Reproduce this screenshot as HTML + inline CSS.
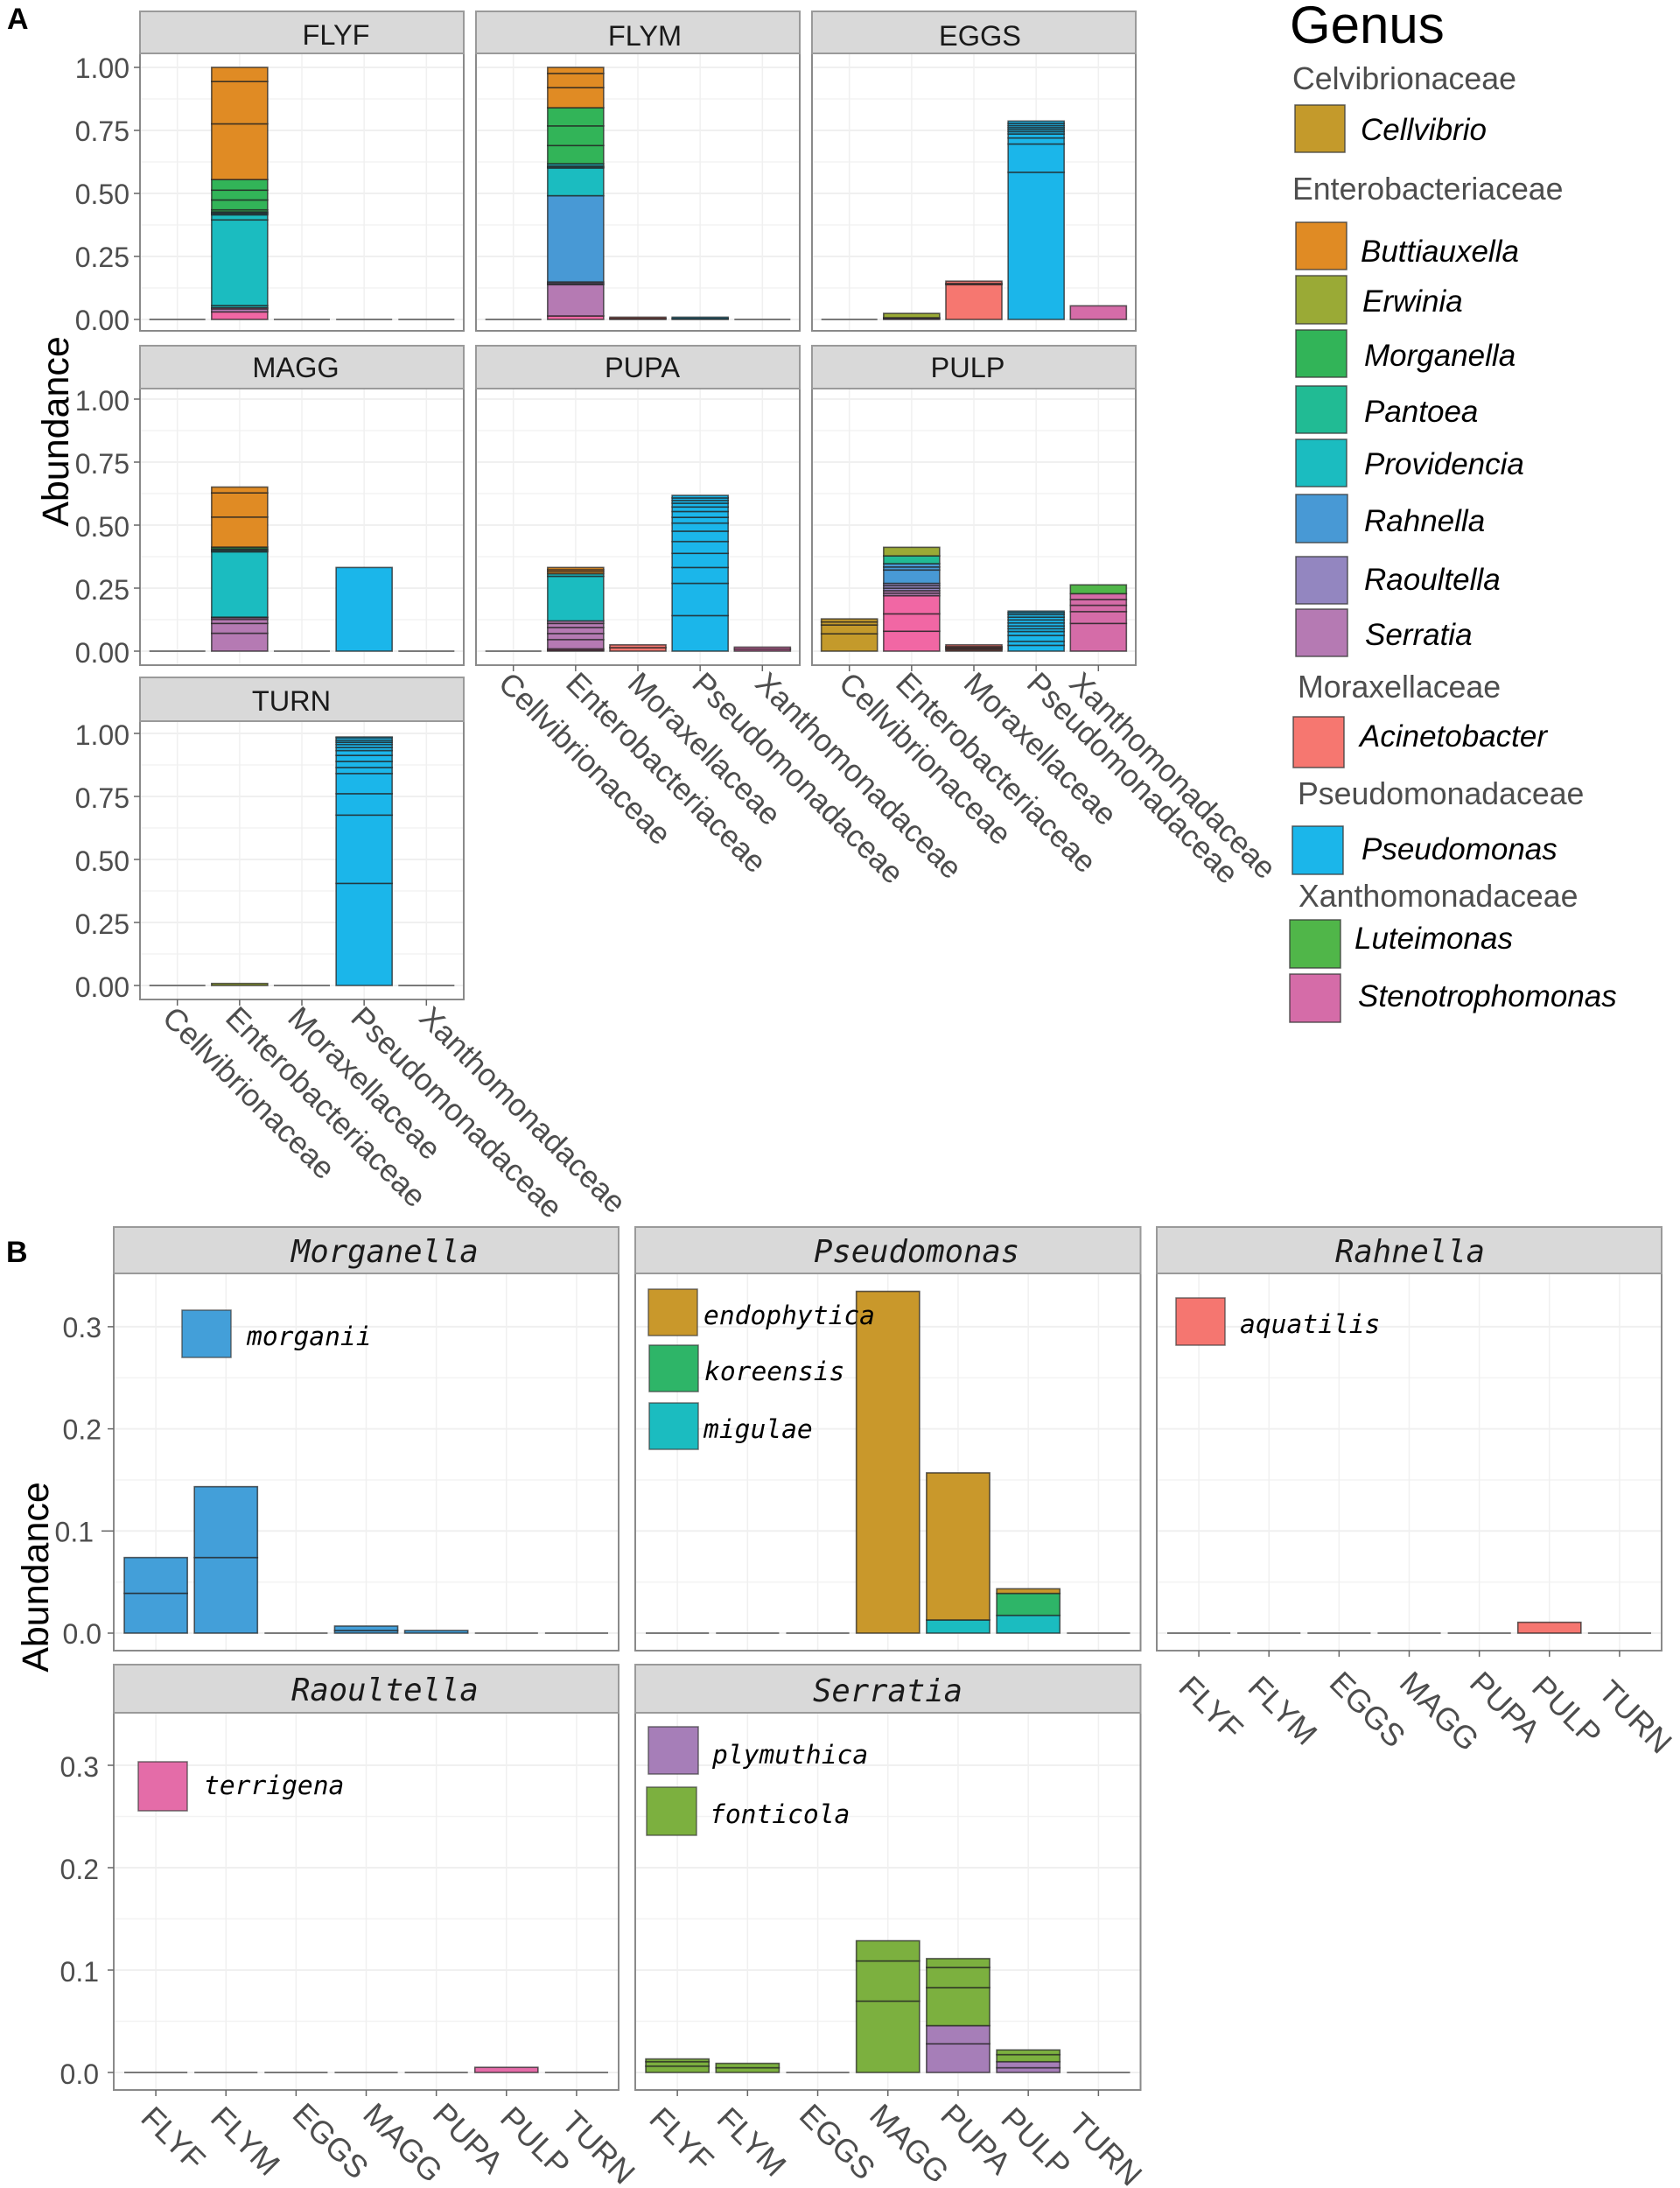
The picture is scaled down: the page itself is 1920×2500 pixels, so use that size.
<!DOCTYPE html>
<html lang="en">
<head>
<meta charset="utf-8">
<title>Abundance by genus and sample</title>
<style>
html,body{margin:0;padding:0;background:#fff;}
svg{display:block;}
text{font-family:"Liberation Sans",sans-serif;}
.mono{font-family:"DejaVu Sans Mono","Liberation Mono",monospace;font-style:italic;}
.head{font-size:35.7px;fill:#4d4d4d;}
.gen{font-size:35px;font-style:italic;fill:#000;}
.sw{stroke:#3a3a3a;stroke-opacity:.8;stroke-width:1.5;}
.sp{font-size:29.6px;fill:#000;}
</style>
</head>
<body>
<svg id="fig" xmlns="http://www.w3.org/2000/svg" width="1920" height="2500" viewBox="0 0 1920 2500">
  <rect width="1920" height="2500" fill="#fff"/>
  <g id="marks"></g>

  <text x="8" y="33" font-size="34" font-weight="bold" fill="#000">A</text>
  <text x="7" y="1442" font-size="34" font-weight="bold" fill="#000">B</text>
  <text transform="translate(78,493) rotate(-90)" text-anchor="middle" font-size="43" fill="#000">Abundance</text>
  <text transform="translate(55,1802) rotate(-90)" text-anchor="middle" font-size="43" fill="#000">Abundance</text>

  <g>
    <text x="1474" y="49" font-size="60" fill="#000">Genus</text>
    <text class="head" x="1477" y="102">Celvibrionaceae</text>
    <rect class="sw" x="1480" y="120" width="57" height="54" fill="#c49a2b"/>
    <text class="gen" x="1555" y="160">Cellvibrio</text>
    <text class="head" x="1477" y="228">Enterobacteriaceae</text>
    <rect class="sw" x="1481" y="254" width="58" height="54" fill="#e08b24"/>
    <text class="gen" x="1555" y="299">Buttiauxella</text>
    <rect class="sw" x="1481" y="315" width="58" height="55" fill="#9aaa36"/>
    <text class="gen" x="1557" y="356">Erwinia</text>
    <rect class="sw" x="1481" y="377" width="58" height="54" fill="#32b458"/>
    <text class="gen" x="1559" y="418">Morganella</text>
    <rect class="sw" x="1481" y="441" width="58" height="54" fill="#21bb94"/>
    <text class="gen" x="1559" y="482">Pantoea</text>
    <rect class="sw" x="1481" y="502" width="58" height="54" fill="#1bbcc0"/>
    <text class="gen" x="1559" y="542">Providencia</text>
    <rect class="sw" x="1481" y="565" width="59" height="55" fill="#4899d5"/>
    <text class="gen" x="1559" y="607">Rahnella</text>
    <rect class="sw" x="1481" y="636" width="59" height="54" fill="#9386c0"/>
    <text class="gen" x="1559" y="674">Raoultella</text>
    <rect class="sw" x="1481" y="696" width="59" height="54" fill="#b57ab3"/>
    <text class="gen" x="1560" y="737">Serratia</text>
    <text class="head" x="1483" y="797">Moraxellaceae</text>
    <rect class="sw" x="1478" y="819" width="58" height="58" fill="#f67770"/>
    <text class="gen" x="1554" y="853">Acinetobacter</text>
    <text class="head" x="1483" y="919">Pseudomonadaceae</text>
    <rect class="sw" x="1477" y="944" width="58" height="55" fill="#1bb6ea"/>
    <text class="gen" x="1556" y="982">Pseudomonas</text>
    <text class="head" x="1484" y="1036">Xanthomonadaceae</text>
    <rect class="sw" x="1474" y="1051" width="58" height="55" fill="#50b649"/>
    <text class="gen" x="1548" y="1084">Luteimonas</text>
    <rect class="sw" x="1474" y="1113" width="58" height="55" fill="#d56ca8"/>
    <text class="gen" x="1552" y="1150">Stenotrophomonas</text>
  </g>
</svg>

<script>
// ---------- categories ----------
const families = ['Cellvibrionaceae','Enterobacteriaceae','Moraxellaceae','Pseudomonadaceae','Xanthomonadaceae'];
const samples = ['FLYF','FLYM','EGGS','MAGG','PUPA','PULP','TURN'];
const tickLabelsA = ['0.00','0.25','0.50','0.75','1.00'];
const tickValuesA = [0,0.25,0.5,0.75,1];
const minorValuesA = [0.125,0.375,0.625,0.875];
const tickLabelsB = ['0.0','0.1','0.2','0.3'];
const tickValuesB = [0,0.1,0.2,0.3];
const minorValuesB = [0.05,0.15,0.25];

// ---------- panel A values: per family, bottom-up [genus, abundance] ----------
const flyfStacks = [[],
  [['Pink',.03],['Serr',.012],['Pink',.005],['Prov',.008],['Prov',.34],['Prov',.02],['Prov',.004],['Prov',.004],['Prov',.004],['Morg',.008],['Morg',.039],['Morg',.039],['Morg',.042],['Butt',.221],['Butt',.168],['Butt',.056]],
  [],[],[]];
const flymStacks = [[],
  [['Pink',.014],['Serr',.124],['Raou',.005],['Raou',.006],['Rahn',.342],['Prov',.11],['Prov',.004],['Prov',.004],['Prov',.009],['Morg',.072],['Morg',.078],['Morg',.072],['Butt',.08],['Butt',.056],['Butt',.024]],
  [['Acin',.004],['Acin',.005]],
  [['Pseu',.004],['Pseu',.005]],
  []];
const eggsStacks = [[],
  [['Serr',.004],['Serr',.003],['Erwi',.017]],
  [['Acin',.138],['Acin',.005],['Acin',.009]],
  [['Pseu',.584],['Pseu',.112],['Pseu',.024],['Pseu',.016],['Pseu',.009],['Pseu',.008],['Pseu',.008],['Pseu',.008],['Pseu',.009],['Pseu',.009]],
  [['Sten',.054]]];
const maggStacks = [[],
  [['Serr',.071],['Serr',.039],['Serr',.016],['Serr',.007],['Raou',.002],['Prov',.259],['Prov',.004],['Prov',.004],['Prov',.004],['Morg',.007],['Butt',.119],['Butt',.096],['Butt',.023]],
  [],
  [['Pseu',.332]],
  []];
const pupaStacks = [[],
  [['Pink',.004],['Pink',.005],['Serr',.037],['Serr',.024],['Serr',.024],['Serr',.016],['Serr',.01],['Prov',.177],['Prov',.01],['Butt',.008],['Butt',.008],['Butt',.009]],
  [['Acin',.014],['Acin',.011]],
  [['Pseu',.141],['Pseu',.128],['Pseu',.063],['Pseu',.056],['Pseu',.047],['Pseu',.041],['Pseu',.032],['Pseu',.023],['Pseu',.023],['Pseu',.018],['Pseu',.015],['Pseu',.011],['Pseu',.01],['Pseu',.01]],
  [['Sten',.008],['Sten',.008]]];
const pulpStacks = [
  [['Cell',.069],['Cell',.035],['Cell',.012],['Cell',.012]],
  [['Pink',.079],['Pink',.069],['Pink',.072],['Serr',.01],['Serr',.01],['Raou',.01],['Raou',.01],['Raou',.009],['Rahn',.053],['Rahn',.012],['Rahn',.013],['Pant',.031],['Erwi',.034]],
  [['Acin',.005],['Acin',.005],['Acin',.004],['Acin',.004],['Acin',.007]],
  [['Pseu',.023],['Pseu',.016],['Pseu',.0235],['Pseu',.0155],['Pseu',.011],['Pseu',.011],['Pseu',.012],['Pseu',.012],['Pseu',.011],['Pseu',.01],['Pseu',.008],['Pseu',.006]],
  [['Sten',.11],['Sten',.047],['Sten',.025],['Sten',.023],['Sten',.023],['Lute',.035]]];
const turnStacks = [[],
  [['Erwi',.008]],
  [],
  [['Pseu',.405],['Pseu',.271],['Pseu',.085],['Pseu',.08],['Pseu',.024],['Pseu',.024],['Pseu',.024],['Pseu',.019],['Pseu',.012],['Pseu',.012],['Pseu',.009],['Pseu',.008],['Pseu',.01],['Pseu',.003]],
  []];

// ---------- panel B values: per sample, bottom-up [species, abundance] ----------
const morganellaStacks = [
  [['morg',.039],['morg',.035]],
  [['morg',.074],['morg',.0694]],
  [],
  [['morg',.0026],['morg',.0043]],
  [['morg',.0026]],
  [],[]];
const pseudomonasStacks = [[],[],[],
  [['endo',.3346]],
  [['migu',.0129],['endo',.144]],
  [['migu',.0174],['kore',.0215],['endo',.0045]],
  []];
const rahnellaStacks = [[],[],[],[],[],[['aqua',.0106]],[]];
const raoultellaStacks = [[],[],[],[],[],[['terr',.005]],[]];
const serratiaStacks = [
  [['font',.0062],['font',.0043],['font',.0027]],
  [['font',.0046],['font',.0043]],
  [],
  [['font',.0697],['font',.0392],['font',.0197]],
  [['plym',.028],['plym',.0177],['font',.0372],['font',.0197],['font',.0086]],
  [['plym',.0046],['plym',.0059],['font',.0069],['font',.0046]],
  []];

// ---------- styles ----------
const fills = {
  Butt:'#e08b24',Morg:'#32b458',Prov:'#1bbcc0',Rahn:'#4899d5',Raou:'#9386c0',Serr:'#b57ab3',
  Pink:'#f167a4',Sten:'#d56ca8',Acin:'#f67770',Pseu:'#1bb6ea',Cell:'#c49a2b',Erwi:'#9aaa36',
  Pant:'#21bb94',Lute:'#50b649',
  morg:'#439fd9',endo:'#c9982b',kore:'#2eb568',migu:'#1bbcc0',aqua:'#f57670',terr:'#e46ca8',plym:'#a67eb8',font:'#7cb03f'
};
const NS = 'http://www.w3.org/2000/svg';
const root = document.getElementById('marks');

function make(tag, attrs, name, parent){
  const el = document.createElementNS(NS, tag);
  for (const k in attrs) el.setAttribute(k, attrs[k]);
  
  
  (parent || root).appendChild(el);
  return el;
}

function drawPanel(p){
  const slug = p.title.toLowerCase();
  const g = make('g', {}, 'panel-' + slug);
  const width = p.right - p.left;
  const unit = width / (p.cats.length - 1 + 1.2);
  const xScale = i => p.left + unit * (0.6 + i);
  const yScale = v => p.y0 - v * p.perUnit;
  const barW = unit * 0.9;

  make('rect', {x:p.left, y:p.stripBot, width:width, height:p.bottom-p.stripBot, fill:'#fff'}, slug + '-panel-background', g);
  p.minor.forEach(v => {
    make('line', {x1:p.left, x2:p.right, y1:yScale(v), y2:yScale(v), stroke:'#f3f3f3', 'stroke-width':1.5}, slug + '-minor-gridline', g);
  });
  p.major.forEach(v => {
    make('line', {x1:p.left, x2:p.right, y1:yScale(v), y2:yScale(v), stroke:'#f0f0f0', 'stroke-width':2}, slug + '-major-gridline', g);
  });
  p.cats.forEach((c,i) => {
    make('line', {x1:xScale(i), x2:xScale(i), y1:p.stripBot, y2:p.bottom, stroke:'#f0f0f0', 'stroke-width':1.5}, slug + '-vertical-gridline', g);
  });

  p.stacks.forEach((stack,i) => {
    const x = xScale(i) - barW/2;
    if (!stack.length) {
      make('line', {x1:x, x2:x+barW, y1:p.y0, y2:p.y0, stroke:'#7a7a7a', 'stroke-width':2}, slug + '-zero-bar-' + p.cats[i].toLowerCase(), g);
      return;
    }
    let cum = 0;
    stack.forEach(seg => {
      const top = cum + seg[1];
      make('rect', {x:x, y:yScale(top), width:barW, height:yScale(cum)-yScale(top), fill:fills[seg[0]], stroke:'#222', 'stroke-opacity':.72, 'stroke-width':1.6}, slug + '-bar-' + p.cats[i].toLowerCase() + '-' + seg[0].toLowerCase(), g);
      cum = top;
    });
  });

  make('rect', {x:p.left, y:p.stripBot, width:width, height:p.bottom-p.stripBot, fill:'none', stroke:'#8a8a8a', 'stroke-width':2}, slug + '-panel-border', g);
  make('rect', {x:p.left, y:p.stripTop, width:width, height:p.stripBot-p.stripTop, fill:'#d9d9d9', stroke:'#9a9a9a', 'stroke-width':2}, slug + '-strip', g);
  const stripText = make('text', {x:p.stripX, y:p.stripY, 'font-size':p.stripSize, fill:'#1a1a1a', 'text-anchor':p.stripAnchor}, slug + '-strip-label', g);
  if (p.mono) stripText.setAttribute('class', 'mono');
  stripText.textContent = p.title;

  if (p.yTicks) {
    p.major.forEach((v,i) => {
      const longTick = p.longTick === v;
      make('line', {x1:p.left-(longTick?14:7), x2:p.left, y1:yScale(v), y2:yScale(v), stroke:'#666', 'stroke-width':1.5}, slug + '-y-tick', g);
      const t = make('text', {x:p.yLabelRight-(longTick?9:0), y:yScale(v)+p.yLabelDy, 'font-size':p.yLabelSize, fill:'#4d4d4d', 'text-anchor':'end'}, slug + '-y-tick-label', g);
      t.textContent = p.yLabels[i];
    });
  }
  if (p.xLabels) {
    p.cats.forEach((c,i) => {
      make('line', {x1:xScale(i), x2:xScale(i), y1:p.bottom, y2:p.bottom+7, stroke:'#666', 'stroke-width':1.5}, slug + '-x-tick', g);
      const off = p.xLabels[i];
      const lx = xScale(i) + off[0];
      const ly = p.bottom + off[1];
      const t = make('text', {transform:'translate(' + lx + ',' + ly + ') rotate(45)', 'font-size':p.xLabelSize, fill:'#4d4d4d'}, slug + '-x-tick-label-' + c.toLowerCase(), g);
      t.textContent = c;
    });
  }
}

// ---------- layout ----------
const aBase = {cats:families, major:tickValuesA, minor:minorValuesA, yLabels:tickLabelsA, perUnit:288, stripSize:32.5, stripAnchor:'middle', yLabelRight:148, yLabelSize:32, xLabelSize:35.3};
const bBase = {cats:samples, major:tickValuesB, minor:minorValuesB, yLabels:tickLabelsB, stripSize:35.5, stripAnchor:'start', mono:true, yLabelSize:32, xLabelSize:36};

const panels = [
  Object.assign({}, aBase, {title:'FLYF', stacks:flyfStacks, left:160, right:530, stripTop:13, stripBot:61, bottom:378, y0:365, stripX:384, stripY:51, yTicks:true, yLabelDy:12}),
  Object.assign({}, aBase, {title:'FLYM', stacks:flymStacks, left:544, right:914, stripTop:13, stripBot:61, bottom:378, y0:365, stripX:737, stripY:52}),
  Object.assign({}, aBase, {title:'EGGS', stacks:eggsStacks, left:928, right:1298, stripTop:13, stripBot:61, bottom:378, y0:365, stripX:1120, stripY:52}),
  Object.assign({}, aBase, {title:'MAGG', stacks:maggStacks, left:160, right:530, stripTop:395, stripBot:444, bottom:760, y0:744, stripX:338, stripY:431, yTicks:true, yLabelDy:13}),
  Object.assign({}, aBase, {title:'PUPA', stacks:pupaStacks, left:544, right:914, stripTop:395, stripBot:444, bottom:760, y0:744, stripX:734, stripY:431,
    xLabels:[[-19,23],[-13,23],[-13.5,23],[-11,23],[-10,23]]}),
  Object.assign({}, aBase, {title:'PULP', stacks:pulpStacks, left:928, right:1298, stripTop:395, stripBot:444, bottom:760, y0:744, stripX:1106, stripY:431,
    xLabels:[[-14,23],[-20,23],[-13.5,23],[-12.5,23],[-35,23]]}),
  Object.assign({}, aBase, {title:'TURN', stacks:turnStacks, left:160, right:530, stripTop:774, stripBot:824, bottom:1142, y0:1126, stripX:333, stripY:812, yTicks:true, yLabelDy:13,
    xLabels:[[-19,23],[-18,23],[-18,23],[-17,23],[-10,23]]}),
  Object.assign({}, bBase, {title:'Morganella', stacks:morganellaStacks, left:130, right:707, stripTop:1402, stripBot:1455, bottom:1886, y0:1866, perUnit:1167, stripX:333, stripY:1442, yTicks:true, yLabelRight:116, yLabelDy:12, longTick:0.1}),
  Object.assign({}, bBase, {title:'Pseudomonas', stacks:pseudomonasStacks, left:726, right:1303.5, stripTop:1402, stripBot:1455, bottom:1886, y0:1866, perUnit:1167, stripX:930, stripY:1442}),
  Object.assign({}, bBase, {title:'Rahnella', stacks:rahnellaStacks, left:1322, right:1899, stripTop:1402, stripBot:1455, bottom:1886, y0:1866, perUnit:1167, stripX:1526, stripY:1442,
    xLabels:[[-25,44],[-26,44],[-13,39],[-13,39],[-13,39],[-22,44],[-26,49]]}),
  Object.assign({}, bBase, {title:'Raoultella', stacks:raoultellaStacks, left:130, right:707, stripTop:1902, stripBot:1957, bottom:2388, y0:2368, perUnit:1170, stripX:333, stripY:1943, yTicks:true, yLabelRight:113, yLabelDy:13,
    xLabels:[[-19,34],[-19.5,34],[-6,30],[-5.5,30],[-6,30],[-9,34],[-19,39]]}),
  Object.assign({}, bBase, {title:'Serratia', stacks:serratiaStacks, left:726, right:1303.5, stripTop:1902, stripBot:1957, bottom:2388, y0:2368, perUnit:1170, stripX:929, stripY:1944,
    xLabels:[[-34,35],[-37,35],[-23,31],[-23,31],[-22,31],[-33,35],[-36,41]]})
];
panels.forEach(drawPanel);

// ---------- species legends inside panel B (drawn over bars) ----------
const speciesNames = ['morganii','endophytica','koreensis','migulae','aquatilis','terrigena','plymuthica','fonticola'];
const speciesKeys = ['morg','endo','kore','migu','aqua','terr','plym','font'];
const speciesBoxes = [
  {x:208,y:1497,w:56,h:54,tx:282,ty:1537},
  {x:741,y:1473,w:56,h:53,tx:804,ty:1513},
  {x:742,y:1537,w:56,h:53,tx:805,ty:1577},
  {x:742,y:1603,w:56,h:53,tx:804,ty:1643},
  {x:1344,y:1483,w:56,h:54,tx:1417,ty:1523},
  {x:158,y:2013,w:56,h:56,tx:233,ty:2050},
  {x:741,y:1973,w:57,h:54,tx:814,ty:2015},
  {x:739,y:2042,w:57,h:55,tx:811,ty:2083}
];
speciesNames.forEach((n,i) => {
  const b = speciesBoxes[i];
  make('rect', {x:b.x, y:b.y, width:b.w, height:b.h, fill:fills[speciesKeys[i]], stroke:'#3a3a3a', 'stroke-opacity':.7, 'stroke-width':1.5}, 'species-swatch-' + n);
  const t = make('text', {x:b.tx, y:b.ty, class:'mono sp'}, 'species-label-' + n);
  t.textContent = n;
});
</script>
</body>
</html>
